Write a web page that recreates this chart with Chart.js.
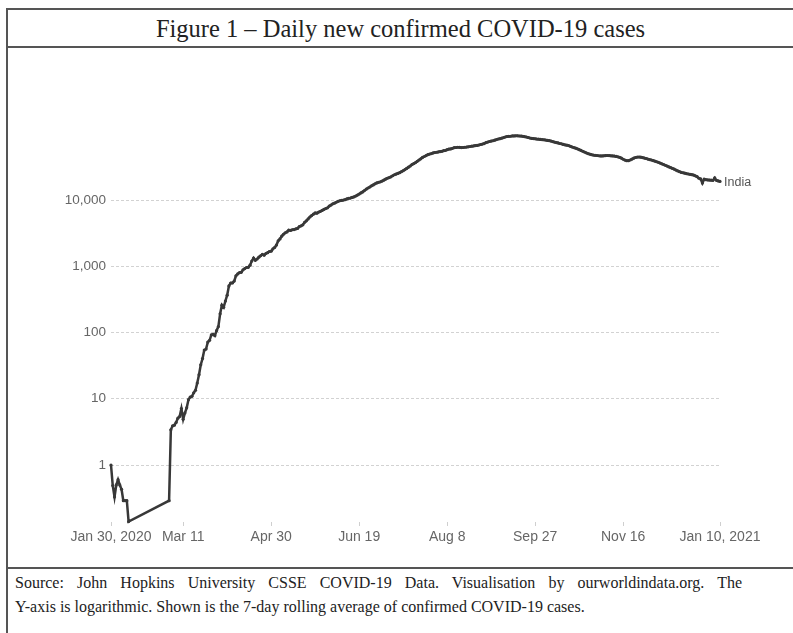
<!DOCTYPE html>
<html>
<head>
<meta charset="utf-8">
<script src="https://cdn.jsdelivr.net/npm/chart.js@4.4.0/dist/chart.umd.min.js"></script>
<style>
  body { margin: 0; background: #fff; width: 793px; height: 633px; overflow: hidden; position: relative; }
  .rule { position: absolute; background: #555; }
  #title { position: absolute; left: 8px; width: 785px; top: 11px; height: 36px; line-height: 36px; text-align: center;
           font-family: "Liberation Serif", "Times New Roman", serif; font-size: 24.5px; color: #222; }
  #wrap { position: absolute; left: 8px; top: 48px; width: 785px; height: 519px; }
  #source { position: absolute; left: 15px; top: 571px; width: 727px; font-family: "Liberation Serif", "Times New Roman", serif;
            font-size: 16px; line-height: 24px; color: #222; }
  #source .first { text-align: justify; text-align-last: justify; white-space: normal; }
  #source .last { white-space: nowrap; }
</style>
</head>
<body>
<div class="rule" style="left:6px; top:8px; width:2px; height:640px"></div>
<div class="rule" style="left:6px; top:8px; width:800px; height:2px"></div>
<div class="rule" style="left:6px; top:46px; width:800px; height:2px"></div>
<div class="rule" style="left:6px; top:567px; width:800px; height:2px"></div>
<div id="title">Figure 1 – Daily new confirmed COVID-19 cases</div>
<div id="wrap"><canvas id="cases" width="785" height="519"></canvas></div>
<div id="source">
  <div class="first">Source: John Hopkins University CSSE COVID-19 Data. Visualisation by ourworldindata.org. The</div>
  <div class="last">Y-axis is logarithmic. Shown is the 7-day rolling average of confirmed COVID-19 cases.</div>
</div>

<script>
const countryName = "India"

// 7-day rolling average of new cases, one value per day from Jan 30, 2020
// null = zero cases (cannot be drawn on a log axis)
const jan2020 = [1, 0.49]
const feb2020 = [0.33, 0.5, 0.6, 0.5, 0.43, 0.29, 0.29, 0.29, 0.14,
  null, null, null, null, null, null, null, null, null, null,
  null, null, null, null, null, null, null, null, null, null]
const mar2020 = [null, null, 0.29, 3.4, 3.9, 4.0, 4.4, 5.1, 5.4, 7.1, 4.9, 6.1, 7.3, 9.7, 10.6, 10.9,
  12.3, 13.4, 17.3, 23.1, 32.6, 40.4, 54.3, 56.3, 71.6, 76.1, 91.9, 93.9, 89.7, 107, 123]
const apr2020 = [192, 259, 240, 299, 366, 504, 559, 560, 597, 719, 766, 802, 811, 882, 922,
  958, 965, 1039, 1201, 1333, 1228, 1286, 1373, 1442, 1509, 1468, 1559, 1606, 1670, 1689]
const may2020 = [1830, 1922, 2088, 2427, 2582, 2846, 3041, 3205, 3301, 3522, 3476, 3556, 3581, 3664, 3727,
  3977, 4077, 4223, 4601, 4853, 5176, 5544, 5825, 6120, 6375, 6331, 6580, 6737, 6957, 7200, 7439]
const jun2020 = [7631, 8086, 8391, 8761, 8956, 9256, 9554, 9747, 9851, 9965, 10117, 10401, 10614, 10705, 10928,
  11131, 11487, 11857, 12308, 12791, 13265, 13878, 14588, 15166, 15696, 16346, 16914, 17577, 18089, 18473]
const jul2020 = [18791, 19306, 19909, 20615, 21299, 21832, 22418, 23236, 24038, 24657, 25198, 25834, 26727, 27681, 28797,
  30004, 31257, 32604, 34256, 35491, 36700, 38400, 40200, 41900, 43963, 45344, 46852, 48370, 49308, 50132, 51304]
const aug2020 = [52174, 52606, 53227, 53798, 54392, 55458, 56089, 57470, 58768, 58990, 60198, 61729, 62017, 62512, 62382,
  61798, 62010, 62519, 62898, 63519, 64216, 65037, 65526, 66369, 66743, 67616, 68811, 69753, 71113, 73557, 74835]
const sep2020 = [76436, 77596, 78464, 79887, 81583, 83338, 84179, 85801, 87494, 89381, 90972, 91506, 91688, 92831, 92890,
  93199, 93180, 92576, 92323, 91593, 90347, 89379, 87752, 86270, 85131, 84559, 83875, 83233, 82822, 82000]
const oct2020 = [81500, 80900, 80200, 79400, 78700, 77600, 76100, 74700, 73700, 72600, 71300, 70400, 69000, 67900, 67300,
  66300, 64700, 63100, 61800, 60500, 59200, 57500, 56000, 54400, 53000, 51500, 50200, 49200, 48300, 47700, 47300]
const nov2020 = [47000, 46600, 46300, 46200, 46500, 46800, 47000, 46800, 46500, 46200, 46000, 45500, 44800, 44000, 42800,
  41200, 40000, 39200, 39300, 40200, 41500, 42800, 43800, 44400, 44600, 44300, 43700, 43000, 42300, 41500]
const dec2020 = [40800, 40200, 39400, 38600, 37800, 37000, 36100, 35200, 34300, 33400, 32500, 31600, 30800, 30000, 29200,
  28300, 27500, 26800, 26100, 25800, 25400, 25000, 24700, 24400, 24100, 23800, 23200, 22500, 21300, 20800, 18000]
const jan2021 = [20600, 20300, 20100, 20000, 19900, 19800, 21600, 19800, 19400, 19100]

// day offsets (from Jan 30, 2020) of the labelled x ticks
const tickDays = [0, 41, 91, 141, 191, 241, 291, 346]
const tickLabels = ["Jan 30, 2020", "Mar 11", "Apr 30", "Jun 19", "Aug 8", "Sep 27", "Nov 16", "Jan 10, 2021"]
const yTicks = [1, 10, 100, 1000, 10000]

const dailyCases = [].concat(jan2020, feb2020, mar2020, apr2020, may2020, jun2020,
  jul2020, aug2020, sep2020, oct2020, nov2020, dec2020, jan2021)
const points = dailyCases.map((v, i) => ({ x: i, y: v }))

const sansFamily = '"Liberation Sans", Arial, sans-serif'

const seriesLabel = {
  id: "seriesLabel",
  afterDatasetsDraw(chart) {
    const meta = chart.getDatasetMeta(0)
    const last = meta.data[meta.data.length - 1]
    const ctx = chart.ctx
    ctx.save()
    ctx.font = '12.5px ' + sansFamily
    ctx.fillStyle = "#555"
    ctx.textBaseline = "middle"
    ctx.fillText(countryName, last.x + 4, last.y + 1)
    ctx.restore()
  }
}

new Chart(document.querySelector("#cases"), {
  type: "line",
  plugins: [seriesLabel],
  data: {
    datasets: [{
      label: countryName,
      data: points,
      borderColor: "#383838",
      backgroundColor: "#383838",
      borderWidth: 2.5,
      pointRadius: 1.6,
      pointBorderWidth: 0,
      tension: 0,
      spanGaps: true,
      clip: false,
    }]
  },
  options: {
    responsive: false,
    animation: false,
    devicePixelRatio: 1,
    layout: { padding: { top: 72, right: 73, left: 0, bottom: 0 } },
    scales: {
      x: {
        type: "linear",
        bounds: "data",
        min: 0,
        max: 346,
        afterFit(s) { s.height = 45 },
        afterBuildTicks(s) { s.ticks = tickDays.map((v) => ({ value: v })) },
        grid: { drawOnChartArea: false, drawTicks: true, tickLength: 4, color: "#cfcfcf" },
        border: { display: false },
        ticks: {
          autoSkip: false,
          maxRotation: 0,
          padding: 3,
          color: "#666",
          font: { family: sansFamily, size: 14 },
          callback: (v) => tickLabels[tickDays.indexOf(v)],
        },
      },
      y: {
        type: "logarithmic",
        bounds: "data",
        min: 0.138,
        max: 161300,
        afterFit(s) { s.width = 103 },
        afterBuildTicks(s) { s.ticks = yTicks.map((v) => ({ value: v })) },
        grid: { drawTicks: false, color: "#d2d2d2" },
        border: { display: false, dash: [3, 2] },
        ticks: {
          padding: 5,
          color: "#666",
          font: { family: sansFamily, size: 13.5 },
          callback: (v) => Number(v).toLocaleString("en-US"),
        },
      }
    },
    plugins: {
      legend: { display: false },
      tooltip: { enabled: false },
    },
  },
})
</script>
</body>
</html>
